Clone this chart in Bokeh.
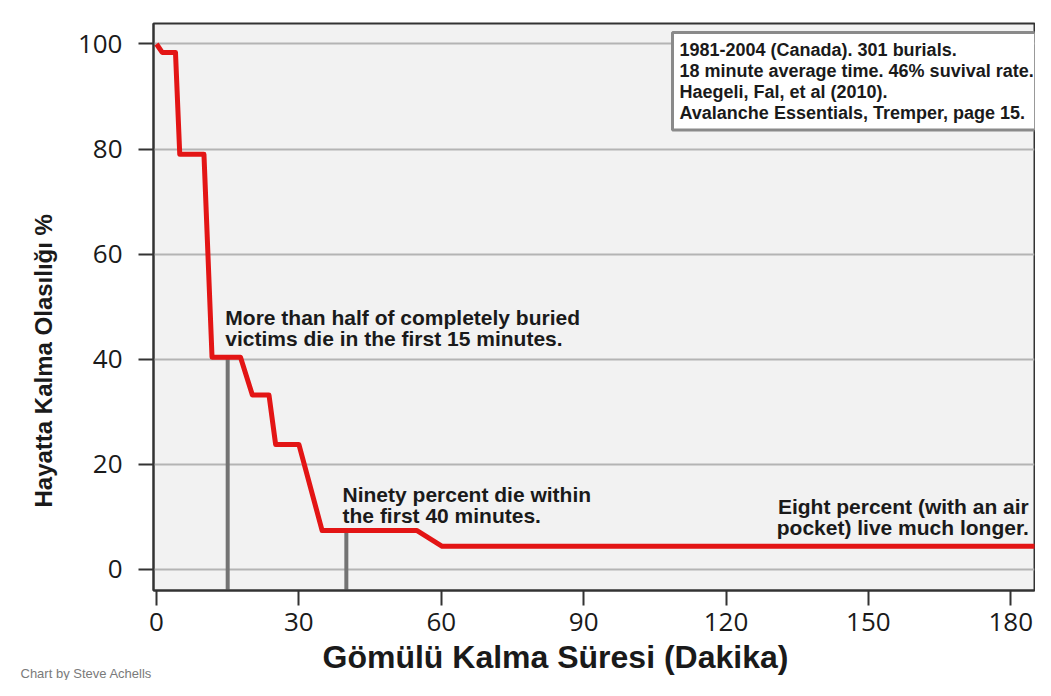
from bokeh.plotting import figure
from bokeh.models import Label, FixedTicker, Range1d, Title
from bokeh.embed import file_html
from bokeh.resources import INLINE

# ---- data ----
minutes = [0, 1.2, 4.0, 4.9, 10.0, 11.7, 17.7, 20.2, 23.7, 25.1, 30.0, 34.9, 54.9, 60.2, 190]
survival = [100, 98.4, 98.4, 79.0, 79.0, 40.4, 40.4, 33.2, 33.2, 23.8, 23.8, 7.4, 7.4, 4.4, 4.4]
marker_minutes = [15, 40]
marker_survival = [40.4, 7.4]
x_ticks = [0, 30, 60, 90, 120, 150, 180]
y_ticks = [0, 20, 40, 60, 80, 100]

x_title = "Gömülü Kalma Süresi (Dakika)"
y_title = "Hayatta Kalma Olasılığı %"
note1 = "More than half of completely buried\nvictims die in the first 15 minutes."
note2 = "Ninety percent die within\nthe first 40 minutes."
note3 = "Eight percent (with an air\npocket) live much longer."
source_text = ("1981-2004 (Canada). 301 burials.\n"
               "18 minute average time. 46% suvival rate.\n"
               "Haegeli, Fal, et al (2010).\n"
               "Avalanche Essentials, Tremper, page 15.")
credit = "Chart by Steve Achells"

X0, X1 = -0.632, 185.0
Y0, Y1 = -4.0, 103.9

p = figure(width=1035, height=680, x_range=Range1d(X0, X1), y_range=Range1d(Y0, Y1),
           output_backend="svg", toolbar_location=None,
           min_border_left=153, min_border_right=1, min_border_top=23, min_border_bottom=90)

p.background_fill_color = "#f2f2f2"
p.border_fill_color = "white"
p.outline_line_color = "#333333"
p.outline_line_width = 2
p.xgrid.visible = False
p.ygrid.grid_line_color = "#b4b4b4"
p.ygrid.grid_line_width = 2

p.xaxis.ticker = FixedTicker(ticks=x_ticks)
p.yaxis.ticker = FixedTicker(ticks=y_ticks)
for ax in (p.xaxis, p.yaxis):
    ax.major_label_text_font = "Open Sans"
    ax.major_label_text_font_size = "26px"
    ax.major_label_text_color = "#1a1a1a"
    ax.major_tick_out = 15
    ax.major_tick_in = 0
    ax.minor_tick_out = 0
    ax.minor_tick_in = 0
    ax.major_tick_line_width = 2
    ax.major_tick_line_color = "#333333"
    ax.axis_line_width = 2
    ax.axis_line_color = "#333333"
p.xaxis.major_label_standoff = 7
p.yaxis.major_label_standoff = 16

# vertical markers
p.segment(x0=marker_minutes, y0=[Y0] * len(marker_minutes), x1=marker_minutes, y1=marker_survival,
          line_color="#737373", line_width=4)
# survival curve
p.line(minutes, survival, line_color="#e31515", line_width=5, line_join="round")

bold = dict(text_font="Liberation Sans", text_font_style="bold", text_color="#1a1a1a")

p.add_layout(Label(x=14.5, y=50.05, text=note1, text_baseline="top", text_font_size="21px",
                   text_line_height=0.88, **bold))
p.add_layout(Label(x=39.2, y=16.4, text=note2, text_baseline="top", text_font_size="21px",
                   text_line_height=0.88, **bold))
p.add_layout(Label(x=183.8, y=14.1, text=note3, text_baseline="top", text_align="right",
                   text_font_size="21px", text_line_height=0.88, **bold))

# source box (screen units relative to frame)
p.add_layout(Label(x=519, y=558, x_units="screen", y_units="screen", text=source_text,
                   text_baseline="top", text_font_size="18px", text_line_height=1.06,
                   background_fill_color="white", border_line_color="#8a8a8a", border_line_width=3,
                   padding=7, **bold))

# credit (inner, zero-height panel) then x title, as side titles outside the frame
p.add_layout(Title(text=credit, align="left", offset=-133, standoff=-94,
                   text_font="Liberation Sans", text_font_style="normal",
                   text_font_size="13px", text_color="#7a7a7a"), "below")
p.add_layout(Title(text=x_title, align="left", offset=169, standoff=7,
                   text_font_size="32px", **bold), "below")
p.add_layout(Title(text=y_title, align="left", offset=83, standoff=35,
                   text_font_size="24px", **bold), "left")

open("out.html", "w").write(file_html(p, INLINE))
